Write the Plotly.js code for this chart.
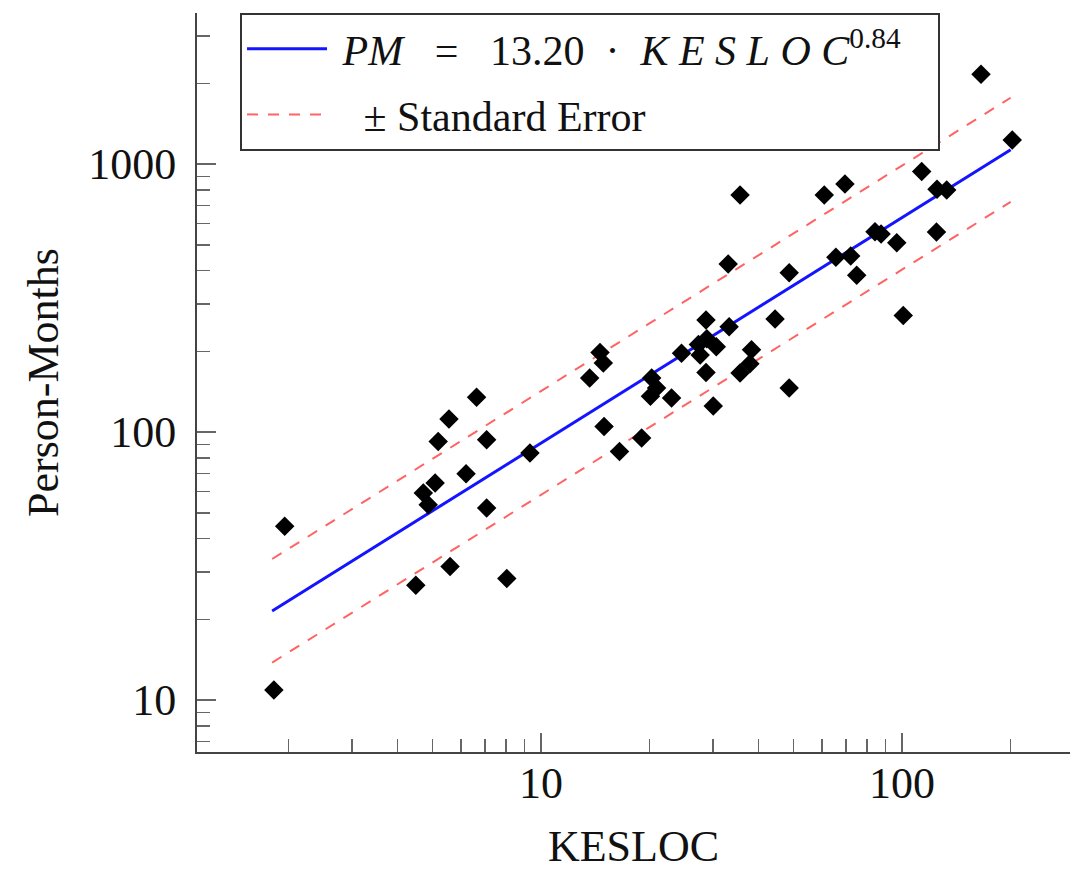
<!DOCTYPE html>
<html>
<head>
<meta charset="utf-8">
<script src="https://cdn.plot.ly/plotly-3.0.1.min.js"></script>
<style>html,body{margin:0;padding:0;background:#fff;}#chart{width:1070px;height:871px;}</style>
</head>
<body>
<div id="chart"></div>
<script>
// Observed data (KESLOC vs Person-Months)
const kesloc = [1.82, 1.95, 4.5, 5.6, 8.04, 6.63, 5.56, 5.19, 7.07, 9.32,
  6.2, 5.09, 4.72, 4.87, 7.07, 14.57, 14.88, 13.64, 14.95, 19.0,
  16.5, 20.26, 20.9, 20.1, 23.0, 24.5, 27.3, 28.8, 27.6, 30.6,
  28.65, 30.0, 28.65, 33.2, 33.0, 35.6, 38.3, 37.9, 35.6, 44.5,
  48.7, 48.7, 60.9, 69.5, 65.6, 72.1, 74.9, 84.2, 87.5, 96.7,
  100.8, 113.4, 125, 133, 124.6, 165.5, 202];
const personMonths = [10.9, 44.5, 26.8, 31.5, 28.4, 135, 112, 92.3, 93.6, 83.6,
  69.9, 64.6, 59.3, 53.6, 52.1, 198, 181, 159, 105, 95,
  84.7, 159, 146, 136, 134, 197, 212, 223, 194, 208,
  167, 125, 262, 247, 424, 766, 203, 180, 166, 264,
  393, 146, 766, 842, 449, 454, 385, 559, 548, 509,
  272, 938, 805, 800, 558, 2165, 1229];

// Fitted line and standard error band end points
const fitX = [1.8, 200];
const fitY = [21.5, 1131];
const upperY = [33.6, 1768];
const lowerY = [13.8, 723];

// Tick labels
const xTickVals = [10, 100];
const xTickText = ["10", "100"];
const yTickVals = [10, 100, 1000];
const yTickText = ["10", "100", "1000"];

const serif = "Liberation Serif, Times New Roman, serif";

const traces = [
  {
    x: fitX, y: fitY, mode: "lines", type: "scatter",
    name: "&nbsp;<i>PM</i>&nbsp;&nbsp;&nbsp;=&nbsp;&nbsp;&nbsp;13.20&nbsp;&nbsp;·&nbsp;&nbsp;<i>K&nbsp;E&nbsp;S&nbsp;L&nbsp;O&nbsp;C</i><sup>0.84</sup>&nbsp;&nbsp;&nbsp;",
    line: {color: "rgb(20,20,255)", width: 3},
    legendgroup: "fit", hoverinfo: "skip"
  },
  {
    x: fitX, y: upperY, mode: "lines", type: "scatter",
    name: "&nbsp;&nbsp;&nbsp;± Standard Error",
    line: {color: "rgb(255,100,100)", width: 2, dash: "11px,10px"},
    legendgroup: "se", hoverinfo: "skip"
  },
  {
    x: fitX, y: lowerY, mode: "lines", type: "scatter",
    showlegend: false,
    line: {color: "rgb(255,100,100)", width: 2, dash: "11px,10px"},
    legendgroup: "se", hoverinfo: "skip"
  },
  {
    x: kesloc, y: personMonths, mode: "markers", type: "scatter",
    showlegend: false,
    marker: {symbol: "diamond", size: 15, color: "#000"}
  }
];

const axisCommon = {
  type: "log",
  showline: true, linecolor: "#444", linewidth: 2,
  showgrid: false, zeroline: false,
  ticks: "inside", ticklen: 19, tickwidth: 1.5, tickcolor: "#666",
  tickmode: "array",
  tickfont: {family: serif, size: 44, color: "#111"},
  minor: {ticks: "inside", ticklen: 13, tickwidth: 1.5, tickcolor: "#666",
          tickmode: "linear", tick0: 0, dtick: "D1", showgrid: false},
  mirror: false
};

const layout = {
  width: 1070, height: 871,
  margin: {l: 197, r: 0, t: 13, b: 119},
  paper_bgcolor: "#fff", plot_bgcolor: "#fff",
  showlegend: true,
  xaxis: Object.assign({}, axisCommon, {
    range: [0.0471, 2.4654],
    tickvals: xTickVals, ticktext: xTickText,
    ticklabelstandoff: -9,
    title: {text: "KESLOC", font: {family: serif, size: 44, color: "#111"}, standoff: 36}
  }),
  yaxis: Object.assign({}, axisCommon, {
    range: [0.8062, 3.5638],
    tickvals: yTickVals, ticktext: yTickText,
    ticklabelstandoff: 10,
    title: {text: "Person-Months", font: {family: serif, size: 44, color: "#111"}, standoff: 16}
  }),
  legend: {
    x: 0.0493, y: 1, xanchor: "left", yanchor: "top",
    bgcolor: "#fff", bordercolor: "#333", borderwidth: 2,
    font: {family: serif, size: 42, color: "#111"},
    itemwidth: 80, tracegroupgap: 8
  }
};

Plotly.newPlot("chart", traces, layout, {staticPlot: true, displayModeBar: false});
</script>
</body>
</html>
